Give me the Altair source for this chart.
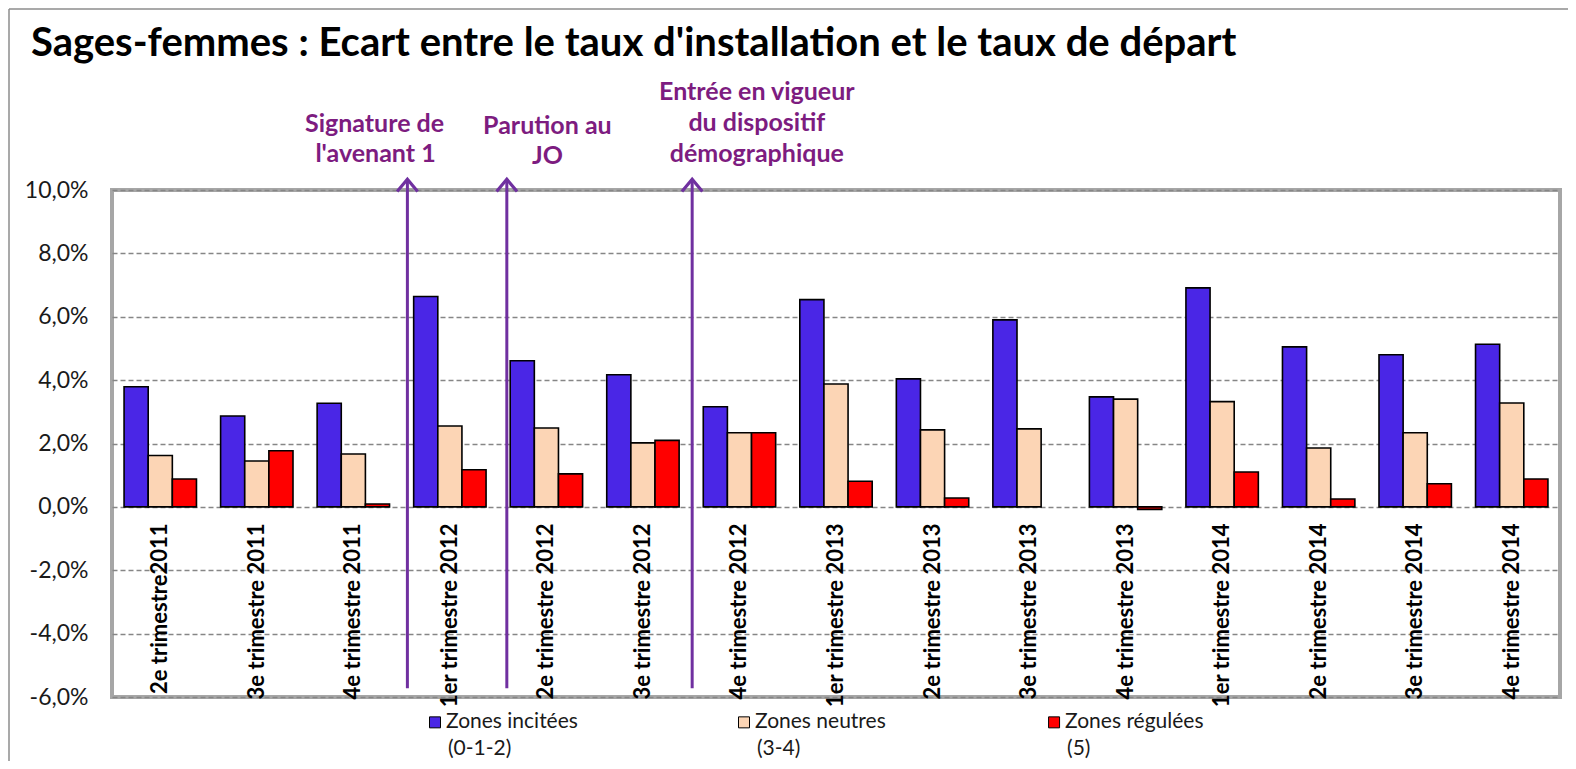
import altair as alt
import pandas as pd

# ---------------- data ----------------
categories = [
    "2e trimestre2011", "3e trimestre 2011", "4e trimestre 2011",
    "1er trimestre 2012", "2e trimestre 2012", "3e trimestre 2012", "4e trimestre 2012",
    "1er trimestre 2013", "2e trimestre 2013", "3e trimestre 2013", "4e trimestre 2013",
    "1er trimestre 2014", "2e trimestre 2014", "3e trimestre 2014", "4e trimestre 2014",
]
series = ["Zones incitées (0-1-2)", "Zones neutres (3-4)", "Zones régulées (5)"]
legend_line1 = ["Zones incitées", "Zones neutres", "Zones régulées"]
legend_line2 = ["(0-1-2)", "(3-4)", "(5)"]
colors = ["#4a26e6", "#fcd5b5", "#ff0000"]

incitees = [3.79, 2.87, 3.27, 6.64, 4.61, 4.17, 3.16, 6.54, 4.04, 5.90, 3.47, 6.91, 5.05, 4.80, 5.13]
neutres = [1.62, 1.45, 1.67, 2.55, 2.49, 2.02, 2.34, 3.88, 2.43, 2.46, 3.40, 3.32, 1.86, 2.34, 3.28]
regulees = [0.88, 1.77, 0.09, 1.17, 1.04, 2.10, 2.34, 0.81, 0.28, None, -0.08, 1.10, 0.25, 0.73, 0.88]

title_text = "Sages-femmes : Ecart entre le taux d'installation et le taux de départ"

# annotations (x in category units 0..15, y in %)
event_pos = [3.06, 4.09, 6.01]
event_base = [-5.72, -5.72, -5.72]
event_top = [10.34, 10.34, 10.34]
ann_x = [2.72, 2.73, 4.51, 4.51, 6.68, 6.68, 6.68]
ann_y = [12.08, 11.13, 12.01, 11.06, 13.09, 12.11, 11.13]
ann_text = ["Signature de", "l'avenant 1", "Parution au", "JO",
            "Entrée en vigueur", "du dispositif", "démographique"]

legend_x = [3.346, 6.547, 9.759]
legend_y1 = [-6.80, -6.80, -6.80]
legend_y2 = [-7.63, -7.63, -7.63]

y_ticks = [-6, -4, -2, 0, 2, 4, 6, 8, 10]

# ---------------- tables ----------------
rows = []
for vals, s in zip([incitees, neutres, regulees], series):
    for c, v in zip(categories, vals):
        rows.append({"quarter": c, "series": s, "value": v})
bars_df = pd.DataFrame(rows)

events_df = pd.DataFrame({"pos": event_pos, "base": event_base, "top": event_top})
ann_df = pd.DataFrame({"ax": ann_x, "ay": ann_y, "txt": ann_text})
leg_df = pd.DataFrame({"lx": legend_x, "ly1": legend_y1, "ly2": legend_y2,
                       "series": series, "l1": legend_line1, "l2": legend_line2})
one_df = pd.DataFrame({"t": [title_text]})

# ---------------- scales / axes ----------------
FONT = "Lato"
y_scale = alt.Scale(domain=[-6, 10], nice=False, zero=False)
xq_scale = alt.Scale(domain=[0, 15], nice=False, zero=False)
color_scale = alt.Scale(domain=series, range=colors)

label_expr = ("(datum.value < 0 ? '-' : '') + "
              "replace(format(abs(datum.value), '.1f'), '.', ',') + '%'")

y_axis = alt.Axis(title=None, values=y_ticks, grid=True,
                  gridColor="#868686", gridDash=[5, 3], gridWidth=1.3,
                  domain=False, ticks=False, labelPadding=24,
                  labelFont=FONT, labelFontSize=23, labelColor="#1a1a1a",
                  labelExpr=label_expr)


def Y(field):
    return alt.Y(field, scale=y_scale, axis=y_axis)


def XQ(field):
    return alt.X(field, scale=xq_scale, axis=None)


bars = alt.Chart(bars_df).mark_bar(stroke="black", strokeWidth=1.6).encode(
    x=alt.X("quarter:N", sort=categories,
            scale=alt.Scale(paddingInner=0.25, paddingOuter=0.125),
            axis=alt.Axis(title=None, labelAngle=270, offset=-190, domain=False,
                          ticks=False, grid=False, labelFont=FONT,
                          labelFontWeight="bold", labelFontSize=22,
                          labelColor="black", labelPadding=16,
                          labelOverlap=False, labelLimit=400)),
    xOffset=alt.XOffset("series:N", sort=series,
                        scale=alt.Scale(paddingInner=0, paddingOuter=0)),
    y=Y("value:Q"),
    color=alt.Color("series:N", scale=color_scale, legend=None),
)

arrows = alt.Chart(events_df).mark_rule(color="#7030a0", strokeWidth=3).encode(
    x=XQ("pos:Q"), y=Y("base:Q"), y2="top:Q",
)

heads = alt.Chart(events_df).mark_point(
    shape="M -1 1.2 L 0 0 L 1 1.2", filled=False, size=420,
    strokeWidth=3.2, color="#7030a0", opacity=1,
).encode(x=XQ("pos:Q"), y=Y("top:Q"))

ann = alt.Chart(ann_df).mark_text(
    font=FONT, fontWeight="bold", fontSize=25, color="#7d1c80",
    align="center", baseline="middle",
).encode(x=XQ("ax:Q"), y=Y("ay:Q"), text="txt:N")

leg_sq = alt.Chart(leg_df).mark_square(
    size=121, stroke="black", strokeWidth=1, opacity=1, filled=True,
).encode(
    x=XQ("lx:Q"), y=Y("ly1:Q"),
    color=alt.Color("series:N", scale=color_scale, legend=None),
)

leg_t1 = alt.Chart(leg_df).mark_text(
    font=FONT, fontSize=21, color="#1a1a1a", align="left", baseline="middle", dx=11,
).encode(x=XQ("lx:Q"), y=Y("ly1:Q"), text="l1:N")

leg_t2 = alt.Chart(leg_df).mark_text(
    font=FONT, fontSize=21, color="#1a1a1a", align="left", baseline="middle", dx=13,
).encode(x=XQ("lx:Q"), y=Y("ly2:Q"), text="l2:N")

title = alt.Chart(one_df).mark_text(
    font=FONT, fontWeight="bold", fontSize=40, color="black",
    align="left", baseline="alphabetic",
).encode(text="t:N", x=alt.value(-81), y=alt.value(-134))

frame_top = alt.Chart(one_df).mark_rule(color="#8c8c8c", strokeWidth=1.5).encode(
    x=alt.value(-103), x2=alt.value(1470), y=alt.value(-181))
frame_left = alt.Chart(one_df).mark_rule(color="#8c8c8c", strokeWidth=1.5).encode(
    x=alt.value(-103), y=alt.value(-181), y2=alt.value(580))

chart = alt.layer(
    bars, arrows, heads, ann, leg_sq, leg_t1, leg_t2, title, frame_top, frame_left
).resolve_scale(x="independent").properties(
    width=1448, height=507,
    padding={"left": 104, "top": 182, "right": 8, "bottom": 64},
    autosize=alt.AutoSizeParams(type="none"),
    background="white",
).configure_view(stroke="#a6a6a6", strokeWidth=4)

chart.save("out.html", embed_options={"renderer": "svg", "actions": False})
